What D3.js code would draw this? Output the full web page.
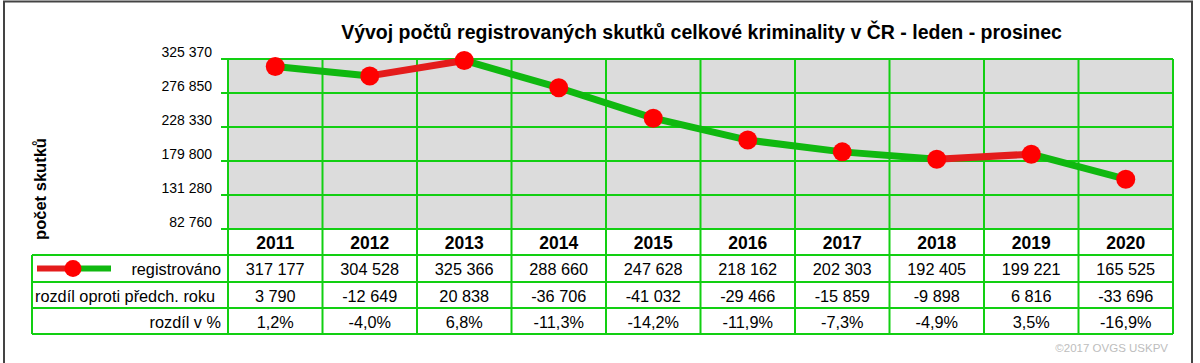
<!DOCTYPE html>
<html>
<head>
<meta charset="utf-8">
<script src="https://cdn.jsdelivr.net/npm/d3@7"></script>
<style>
  body { margin: 0; background: #fff; }
  text { font-family: "Liberation Sans", Arial, sans-serif; }
</style>
</head>
<body>
<script>
const years = ["2011", "2012", "2013", "2014", "2015", "2016", "2017", "2018", "2019", "2020"];
const registered = [317177, 304528, 325366, 288660, 247628, 218162, 202303, 192405, 199221, 165525];
const diffPrev = ["3 790", "-12 649", "20 838", "-36 706", "-41 032", "-29 466", "-15 859", "-9 898", "6 816", "-33 696"];
const diffPct = ["1,2%", "-4,0%", "6,8%", "-11,3%", "-14,2%", "-11,9%", "-7,3%", "-4,9%", "3,5%", "-16,9%"];
const yTickLabels = ["82 760", "131 280", "179 800", "228 330", "276 850", "325 370"];
const yLimits = [98500, 327300];

const W = 1200, H = 363;
const green = "#12cf12";
const lineGreen = "#10b810";
const lineRed = "#e41c1c";
const red = "#ff0000";
const fmt = v => d3.format(",")(v).replace(/,/g, " ");

const svg = d3.select("body").append("svg")
  .attr("width", W)
  .attr("height", H);

// frame
svg.append("rect")
  .attr("x", 4).attr("y", 1.5)
  .attr("width", 1188).attr("height", 380)
  .attr("fill", "none")
  .attr("stroke", "#444")
  .attr("stroke-width", 2);

const plotL = 228, plotR = 1173, plotT = 59, plotB = 229;
const rows = [229, 255, 282, 308, 334];
const tableLeft = 32;

const x = d3.scaleBand().domain(years).range([plotL, plotR]);
const y = d3.scaleLinear().domain(yLimits).range([plotB, plotT]);
const gridVals = d3.range(6).map(i => yLimits[0] + i * (yLimits[1] - yLimits[0]) / 5);
const cx = d => x(d) + x.bandwidth() / 2;

svg.append("rect")
  .attr("x", plotL).attr("y", plotT)
  .attr("width", plotR - plotL).attr("height", plotB - plotT)
  .attr("fill", "#dcdcdc");

// title
svg.append("text")
  .attr("x", (plotL + plotR) / 2 + 1).attr("y", 39)
  .attr("text-anchor", "middle")
  .attr("font-size", 19.5).attr("font-weight", "bold")
  .text("Vývoj počtů registrovaných skutků celkové kriminality v ČR - leden - prosinec");

// y label
svg.append("text")
  .attr("transform", "translate(46,189) rotate(-90)")
  .attr("text-anchor", "middle")
  .attr("font-size", 16.5).attr("font-weight", "bold")
  .text("počet skutků");

// horizontal grid
svg.selectAll(".hgrid").data(gridVals).enter().append("line")
  .attr("x1", plotL - 7).attr("x2", plotR)
  .attr("y1", d => y(d)).attr("y2", d => y(d))
  .attr("stroke", green).attr("stroke-width", 2);

svg.selectAll(".ylab").data(gridVals).enter().append("text")
  .attr("x", 212).attr("y", d => y(d) - 2)
  .attr("text-anchor", "end")
  .attr("font-size", 14)
  .text((d, i) => yTickLabels[i]);

// vertical grid
svg.selectAll(".vgrid").data(years.concat(["end"])).enter().append("line")
  .attr("x1", (d, i) => plotL + i * x.bandwidth())
  .attr("x2", (d, i) => plotL + i * x.bandwidth())
  .attr("y1", plotT).attr("y2", rows[4])
  .attr("stroke", green).attr("stroke-width", 2);

// table rows
svg.selectAll(".trow").data(rows.slice(1)).enter().append("line")
  .attr("x1", tableLeft).attr("x2", plotR)
  .attr("y1", d => d).attr("y2", d => d)
  .attr("stroke", green).attr("stroke-width", 2);
svg.append("line")
  .attr("x1", tableLeft).attr("x2", tableLeft)
  .attr("y1", rows[1]).attr("y2", rows[4])
  .attr("stroke", green).attr("stroke-width", 2);

// line segments
const segs = d3.range(registered.length - 1).map(i => ({ a: i, b: i + 1 }));
svg.selectAll(".seg").data(segs).enter().append("line")
  .attr("x1", d => cx(years[d.a]))
  .attr("y1", d => y(registered[d.a]))
  .attr("x2", d => cx(years[d.b]))
  .attr("y2", d => y(registered[d.b]))
  .attr("stroke", d => registered[d.b] > registered[d.a] ? lineRed : lineGreen)
  .attr("stroke-width", 7);

svg.selectAll(".pt").data(registered).enter().append("circle")
  .attr("cx", (d, i) => cx(years[i]))
  .attr("cy", d => y(d))
  .attr("r", 9.5)
  .attr("fill", red);

// table text
svg.selectAll(".yr").data(years).enter().append("text")
  .attr("x", cx).attr("y", 249)
  .attr("text-anchor", "middle")
  .attr("font-size", 17.5).attr("font-weight", "bold")
  .text(d => d);

const rowData = [registered.map(fmt), diffPrev, diffPct];
rowData.forEach((vals, r) => {
  svg.selectAll(".r" + r).data(vals).enter().append("text")
    .attr("x", (d, i) => cx(years[i]))
    .attr("y", rows[r + 1] + 20)
    .attr("text-anchor", "middle")
    .attr("font-size", 16.3)
    .text(d => d);
});

// row labels
svg.append("text").attr("x", 221).attr("y", rows[1] + 20)
  .attr("text-anchor", "end").attr("font-size", 16.3).text("registrováno");
svg.append("text").attr("x", 35).attr("y", rows[2] + 20)
  .attr("font-size", 16.3).text("rozdíl oproti předch. roku");
svg.append("text").attr("x", 221).attr("y", rows[3] + 20)
  .attr("text-anchor", "end").attr("font-size", 16.3).text("rozdíl v %");

// legend
const ly = (rows[1] + rows[2]) / 2;
svg.append("line").attr("x1", 37).attr("x2", 73).attr("y1", ly).attr("y2", ly)
  .attr("stroke", lineRed).attr("stroke-width", 6);
svg.append("line").attr("x1", 73).attr("x2", 111).attr("y1", ly).attr("y2", ly)
  .attr("stroke", lineGreen).attr("stroke-width", 6);
svg.append("circle").attr("cx", 73).attr("cy", ly).attr("r", 8.5).attr("fill", red);

// credit
svg.append("text")
  .attr("x", 1168).attr("y", 352)
  .attr("text-anchor", "end")
  .attr("font-size", 11.5).attr("fill", "#bdbdbd")
  .text("©2017 OVGS USKPV");
</script>
</body>
</html>
